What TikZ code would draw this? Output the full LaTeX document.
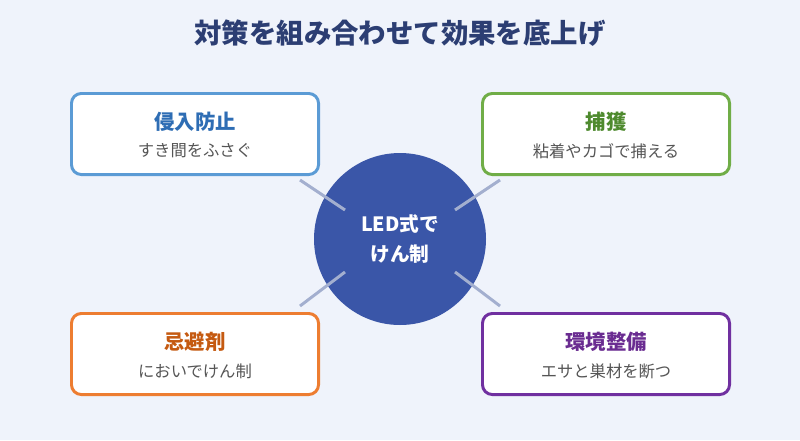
\documentclass[tikz,border=0pt]{standalone}
\usepackage{fontspec}
\setmainfont{Noto Sans CJK JP}
\usetikzlibrary{positioning}

\definecolor{bgcol}{HTML}{EFF3FB}
\definecolor{navy}{HTML}{2C3E73}
\definecolor{hub}{HTML}{3A56A8}
\definecolor{spoke}{HTML}{A3AFCF}
\definecolor{subgray}{HTML}{555555}
\definecolor{bluebd}{HTML}{5B9BD5}\definecolor{bluetx}{HTML}{2E6DB4}
\definecolor{greenbd}{HTML}{70AD47}\definecolor{greentx}{HTML}{4E8A2E}
\definecolor{orangebd}{HTML}{ED7D31}\definecolor{orangetx}{HTML}{C55A11}
\definecolor{purplebd}{HTML}{7030A0}\definecolor{purpletx}{HTML}{6A2C91}

\begin{document}
\begin{tikzpicture}[x=0.025cm, y=-0.025cm,
  card/.style={draw=#1, fill=white, line width=2.1pt, rounded corners=7pt,
    minimum width=250*0.025cm-2.1pt, minimum height=84*0.025cm-2.1pt, inner sep=0pt},
  cardhead/.style={text=#1, font=\fontsize{14.5}{16}\selectfont\bfseries},
  cardsub/.style={text=subgray, font=\fontsize{11.6}{13}\selectfont}]
% ---- canvas and title ----------------------------------------------------
\fill[bgcol] (0,0) rectangle (800,440);
\useasboundingbox (0,0) rectangle (800,440);
\node[text=navy, font=\fontsize{19.5}{22}\selectfont\bfseries] (title) at (400,33)
  {対策を組み合わせて効果を底上げ};

% ---- central circle ------------------------------------------------------
\node[circle, fill=hub, minimum size=172*0.025cm, inner sep=0pt] (hubnode) at (400,239) {};

% ---- spokes (drawn over the circle) --------------------------------------
\coordinate (tlA) at (300,180); \coordinate (tlB) at (345,210);
\coordinate (trA) at (500,180); \coordinate (trB) at (455,210);
\coordinate (blA) at (300,306); \coordinate (blB) at (345,272);
\coordinate (brA) at (500,306); \coordinate (brB) at (455,272);
\foreach \p in {tl,tr,bl,br}
  \draw[spoke, line width=2.1pt] (\p A) -- (\p B);

\node[text=white, font=\fontsize{14}{21}\selectfont\bfseries, align=center] (hubtext)
  at (hubnode.center) {LED式で\\けん制};

% ---- the four cards ------------------------------------------------------
\foreach \nm/\cx/\cy/\col/\head/\sub in {
    intrude/195/134/blue/侵入防止/すき間をふさぐ,
    capture/606/134/green/捕獲/粘着やカゴで捕える,
    repel/195/354/orange/忌避剤/においでけん制,
    habitat/606/354/purple/環境整備/エサと巣材を断つ}{
  \node[card=\col bd] (\nm) at (\cx,\cy) {};
  \node[cardhead=\col tx] (\nm head) at (\cx,\cy-12) {\head};
  \node[cardsub] (\nm sub) at (\cx,\cy+17) {\sub};
}
\end{tikzpicture}
\end{document}
